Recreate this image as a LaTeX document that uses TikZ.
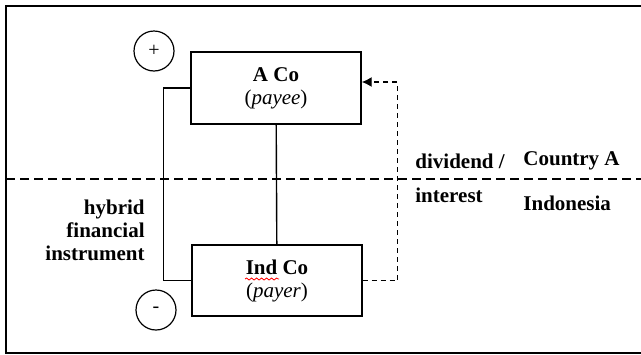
\documentclass[tikz,border=0pt]{standalone}
\usepackage{fontspec}
\setmainfont{Liberation Serif}
\usepackage{tikz}
\usetikzlibrary{arrows.meta, positioning, calc, decorations.pathmorphing}
\tikzset{
    company/.style={rectangle, draw=black, line width=0.7pt, minimum width=85pt, minimum height=36pt, align=center, font=\fontsize{10.5}{11.5}\selectfont, inner sep=0pt},
    sign/.style={circle, draw=black, line width=0.6pt, minimum size=20pt, inner sep=0pt, font=\fontsize{10}{11}\selectfont},
    lbl/.style={font=\fontsize{10.5}{11.5}\selectfont\bfseries, inner sep=0pt},
    border/.style={dash pattern=on 4.5pt off 2.5pt, line width=0.7pt},
    flowarrow/.style={-{Latex[length=5pt, width=5pt]}, dash pattern=on 2.5pt off 2pt, line width=0.7pt},
    link/.style={line width=0.7pt}
}
\begin{document}
\begin{tikzpicture}[x=0.5pt, y=-0.5pt]
  \useasboundingbox (0,0) rectangle (641,354);
  \draw[line width=1pt] (641,6) -- (6,6) -- (6,353) -- (641,353);
  % companies
  \node[company] (aco) at (276,88) {\textbf{A Co}\\(\textit{payee})};
  \node[company, minimum height=35.5pt] (ind) at (277,280.5) {\textbf{Ind Co}\\(\textit{payer})};
  \draw[red, line width=0.4pt, decorate, decoration={snake, amplitude=0.5pt, segment length=2.5pt}] (245,279) -- (279,279);
  \node[sign] (plus) at (154,51) {+};
  \node[sign] (minus) at (156,310) {-};
  % country border
  \coordinate (bl) at (6,179);
  \coordinate (br) at (641,179);
  \draw[border] (bl) -- (br);
  % links
  \draw[link] (aco) -- (ind);
  \draw[link] (aco.west) -- ++(-27,0) |- (ind.west);
  \draw[flowarrow] (ind.east) -- ++(35,0) |- ([yshift=3pt]aco.east);
  % labels
  \node[lbl, align=right, anchor=east] (hybrid) at (145,230) {hybrid\\financial\\instrument};
  \node[lbl, anchor=base west] (div) at (415,168) {dividend /};
  \node[lbl, anchor=base west] (int) at (415,202) {interest};
  \node[lbl, anchor=base west] (ctya) at (523,165) {Country A};
  \node[lbl, anchor=base west] (indo) at (523,210) {Indonesia};
\end{tikzpicture}
\end{document}
